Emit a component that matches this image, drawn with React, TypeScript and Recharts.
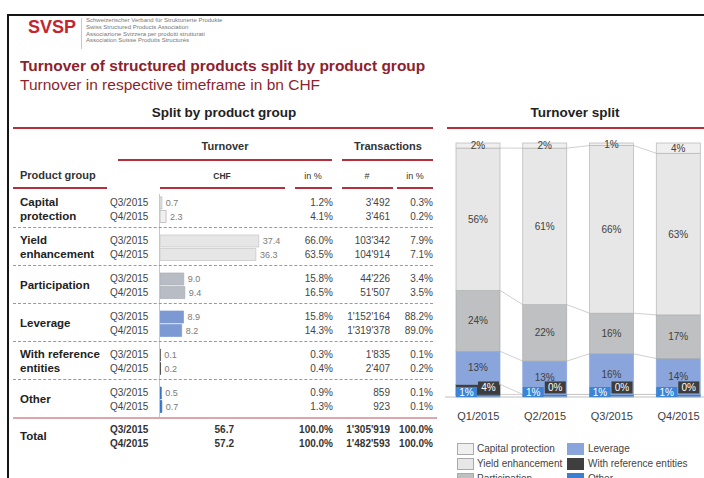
import React from "react";
import { BarChart, Bar, XAxis, YAxis, LabelList } from "recharts";

// ---- table data (Q3/2015 vs Q4/2015) ----
const GROUPS = ["Capital\nprotection", "Yield\nenhancement", "Participation", "Leverage", "With reference\nentities", "Other"];
const PERIODS = ["Q3/2015", "Q4/2015"];
const CHF_Q3 = [0.7, 37.4, 9.0, 8.9, 0.1, 0.5];
const CHF_Q4 = [2.3, 36.3, 9.4, 8.2, 0.2, 0.7];
const PCT_Q3 = [1.2, 66.0, 15.8, 15.8, 0.3, 0.9];
const PCT_Q4 = [4.1, 63.5, 16.5, 14.3, 0.4, 1.3];
const TRX_Q3 = [3492, 103342, 44226, 1152164, 1835, 859];
const TRX_Q4 = [3461, 104914, 51507, 1319378, 2407, 923];
const TRX_PCT_Q3 = [0.3, 7.9, 3.4, 88.2, 0.1, 0.1];
const TRX_PCT_Q4 = [0.2, 7.1, 3.5, 89.0, 0.2, 0.1];
const TOTAL_CHF = [56.7, 57.2];
const TOTAL_TRX = [1305919, 1482593];

// ---- turnover split (stacked, in %) ----
const QUARTERS = ["Q1/2015", "Q2/2015", "Q3/2015", "Q4/2015"];
const SPLIT_CP = [2, 2, 1, 4];
const SPLIT_YE = [56, 61, 66, 63];
const SPLIT_PART = [24, 22, 16, 17];
const SPLIT_LEV = [13, 13, 16, 14];
const SPLIT_WRE = [4, 0, 0, 0];
const SPLIT_OTHER = [1, 1, 1, 1];

const TABLE_COLORS = ["#f0f0f0", "#e6e6e6", "#b8bcc4", "#7d99d4", "#404040", "#3a74c4"];
const TABLE_STROKES = ["#b0b0b0", "#c4c4c4", "#a8acb4", "#7d99d4", "#404040", "#3a74c4"];

// bottom -> top
const SERIES = [
  { key: "other", name: "Other", color: "#3b7fd0", stroke: "#3b7fd0", values: SPLIT_OTHER },
  { key: "wre", name: "With reference entities", color: "#3f3f3f", stroke: "#3f3f3f", values: SPLIT_WRE },
  { key: "lev", name: "Leverage", color: "#8aa5dc", stroke: "#8aa5dc", values: SPLIT_LEV },
  { key: "part", name: "Participation", color: "#bfc0c2", stroke: "#a9aaac", values: SPLIT_PART },
  { key: "ye", name: "Yield enhancement", color: "#e7e7e7", stroke: "#b5b5b5", values: SPLIT_YE },
  { key: "cp", name: "Capital protection", color: "#efefef", stroke: "#b5b5b5", values: SPLIT_CP },
];

const FONT = "Arial, 'Liberation Sans', sans-serif";
const RED = "#b5303b";
const TITLE_RED = "#8e1f2f";

const CH_W = 267;
const CH_H = 300;
const CH_TOP = 8;
const AXIS_H = 38;
const PLOT_H = CH_H - CH_TOP - AXIS_H;
const BAND = CH_W / QUARTERS.length;

const splitData = QUARTERS.map((q, i) => {
  const row: Record<string, any> = { q };
  SERIES.forEach((s) => (row[s.key] = s.values[i]));
  return row;
});

const fmtInt = (n: number) => String(n).replace(/\B(?=(\d{3})+(?!\d))/g, "'");
const fmtPct = (n: number) => n.toFixed(1) + "%";

// fraction of the stack reached at the top of series si in quarter qi
function stackTop(si: number, qi: number) {
  let sum = 0;
  let cum = 0;
  SERIES.forEach((s, k) => {
    sum += s.values[qi];
    if (k <= si) cum += s.values[qi];
  });
  return cum / sum;
}

const makeShape = (si: number) => (props: any) => {
  const { x, y, width, height, index, fill } = props;
  const s = SERIES[si];
  let line = null;
  if (si < SERIES.length - 1 && index < QUARTERS.length - 1) {
    const ny = CH_TOP + PLOT_H * (1 - stackTop(si, index + 1));
    line = <line x1={x + width} y1={y} x2={x + BAND} y2={ny} stroke="#c4c4c4" strokeWidth={0.8} />;
  }
  return (
    <g>
      {height > 0 && (
        <rect x={x} y={y} width={width} height={height} fill={fill} stroke={s.stroke} strokeWidth={0.7} />
      )}
      {line}
    </g>
  );
};

const badge = (bg: string, side: "left" | "right") => (props: any) => {
  const vb = props.viewBox || props;
  const bottom = vb.y + vb.height;
  const w = 21;
  const h = side === "left" ? 10 : 12;
  const bx = side === "left" ? vb.x : vb.x + vb.width - w - 1;
  const by = side === "left" ? bottom - h : bottom - h - 1;
  return (
    <g>
      <rect x={bx} y={by} width={w} height={h} fill={bg} />
      <text x={bx + w / 2} y={by + h / 2 + 3.5} textAnchor="middle" fontSize={10} fill="#fff" fontFamily={FONT}>
        {props.value + "%"}
      </text>
    </g>
  );
};

function T({ x, y, children, align = "left", size = 10, bold = false, color = "#444" }: any) {
  const w = 300;
  const left = align === "left" ? x : align === "right" ? x - w : x - w / 2;
  return (
    <div
      style={{
        position: "absolute",
        left,
        top: y - size * 0.6,
        width: w,
        lineHeight: `${size * 1.2}px`,
        fontSize: size,
        fontWeight: bold ? 700 : 400,
        color,
        textAlign: align,
        whiteSpace: "nowrap",
      }}
    >
      {children}
    </div>
  );
}

const HLine = ({ x1, x2, y, color = RED, h = 2, dashed = false }: any) => (
  <div
    style={{
      position: "absolute",
      left: x1,
      top: y - h / 2,
      width: x2 - x1,
      height: dashed ? 0 : h,
      background: dashed ? "none" : color,
      borderTop: dashed ? `1px dashed ${color}` : "none",
    }}
  />
);

function GroupBars({ i, top }: { i: number; top: number }) {
  const data = [
    { p: PERIODS[0], v: CHF_Q3[i] },
    { p: PERIODS[1], v: CHF_Q4[i] },
  ];
  return (
    <div style={{ position: "absolute", left: 160, top }}>
      <BarChart width={140} height={27} data={data} layout="vertical" margin={{ top: 0, right: 0, bottom: 0, left: 0 }} barCategoryGap={1}>
        <XAxis type="number" domain={[0, 53]} hide />
        <YAxis type="category" dataKey="p" hide />
        <Bar dataKey="v" fill={TABLE_COLORS[i]} stroke={TABLE_STROKES[i]} strokeWidth={0.7} isAnimationActive={false}>
          <LabelList dataKey="v" position="right" offset={4} fontSize={9} fill="#7a7a7a" formatter={(v: any) => Number(v).toFixed(1)} />
        </Bar>
      </BarChart>
    </div>
  );
}

export default function App() {
  const groupTop = (i: number) => 196 + 38 * i;
  return (
    <div
      style={{
        position: "absolute",
        left: 0,
        top: 0,
        width: 704,
        height: 478,
        overflow: "hidden",
        background: "#fff",
        fontFamily: FONT,
      }}
    >
      {/* frame */}
      <div style={{ position: "absolute", left: 7, top: 14, width: 700, height: 2, background: "#151515" }} />
      <div style={{ position: "absolute", left: 7, top: 14, width: 2, height: 470, background: "#151515" }} />

      {/* logo */}
      <T x={28} y={28} size={18} bold color="#c3262f">SVSP</T>
      <div style={{ position: "absolute", left: 81, top: 18, width: 1, height: 31, background: "#c8c8c8" }} />
      {[
        "Schweizerischer Verband für Strukturierte Produkte",
        "Swiss Structured Products Association",
        "Associazione Svizzera per prodotti strutturati",
        "Association Suisse Produits Structurés",
      ].map((s, k) => (
        <T key={k} x={86} y={21 + k * 6.6} size={6} color="#777">
          {s}
        </T>
      ))}

      <T x={20} y={66} size={15.5} bold color={TITLE_RED}>Turnover of structured products split by product group</T>
      <T x={20} y={85} size={15.5} color={TITLE_RED}>Turnover in respective timeframe in bn CHF</T>

      {/* table headers */}
      <T x={224} y={113} size={13.5} bold align="center" color="#222">Split by product group</T>
      <HLine x1={13} x2={433} y={128} />
      <T x={225} y={147} size={11} bold align="center" color="#333">Turnover</T>
      <T x={388} y={147} size={11} bold align="center" color="#333">Transactions</T>
      <HLine x1={118} x2={332} y={160} />
      <HLine x1={342} x2={433} y={160} />
      <T x={20} y={176} size={11} bold color="#333">Product group</T>
      <T x={222} y={176} size={8.5} bold align="center" color="#333">CHF</T>
      <T x={313} y={176} size={9} align="center" color="#333">in %</T>
      <T x={367} y={176} size={9} align="center" color="#333">#</T>
      <T x={415} y={176} size={9} align="center" color="#333">in %</T>
      <HLine x1={13} x2={107} y={188} />
      <HLine x1={160} x2={285} y={188} />
      <HLine x1={295} x2={332} y={188} />
      <HLine x1={342} x2={393} y={188} />
      <HLine x1={397} x2={433} y={188} />

      {/* category axis of the turnover bars */}
      <div style={{ position: "absolute", left: 159, top: 194, width: 1, height: 225, background: "#c8c8c8" }} />

      {GROUPS.map((g, i) => {
        const top = groupTop(i);
        const lines = g.split("\n");
        return (
          <React.Fragment key={g}>
            {lines.map((l, k) => (
              <T key={k} x={20} y={top + 13.5 + (k - (lines.length - 1) / 2) * 14} size={11.5} bold color="#222">
                {l}
              </T>
            ))}
            {PERIODS.map((p, k) => (
              <React.Fragment key={p}>
                <T x={110} y={top + 7 + k * 13.5} size={10}>{p}</T>
                <T x={333} y={top + 7 + k * 13.5} size={10} align="right">{fmtPct(k ? PCT_Q4[i] : PCT_Q3[i])}</T>
                <T x={390} y={top + 7 + k * 13.5} size={10} align="right">{fmtInt(k ? TRX_Q4[i] : TRX_Q3[i])}</T>
                <T x={433} y={top + 7 + k * 13.5} size={10} align="right">{fmtPct(k ? TRX_PCT_Q4[i] : TRX_PCT_Q3[i])}</T>
              </React.Fragment>
            ))}
            <GroupBars i={i} top={top} />
            {i < GROUPS.length - 1 ? (
              <HLine x1={13} x2={433} y={top + 32} dashed color="#9a9a9a" />
            ) : (
              <HLine x1={13} x2={437} y={top + 32} h={1.5} color="#dba7ad" />
            )}
          </React.Fragment>
        );
      })}

      {/* totals */}
      <T x={20} y={437} size={11.5} bold color="#222">Total</T>
      {PERIODS.map((p, k) => (
        <React.Fragment key={p}>
          <T x={110} y={430 + k * 14} size={10} bold color="#333">{p}</T>
          <T x={234} y={430 + k * 14} size={10} bold align="right" color="#333">{TOTAL_CHF[k].toFixed(1)}</T>
          <T x={333} y={430 + k * 14} size={10} bold align="right" color="#333">100.0%</T>
          <T x={390} y={430 + k * 14} size={10} bold align="right" color="#333">{fmtInt(TOTAL_TRX[k])}</T>
          <T x={433} y={430 + k * 14} size={10} bold align="right" color="#333">100.0%</T>
        </React.Fragment>
      ))}

      {/* turnover split */}
      <T x={575} y={113} size={13.5} bold align="center" color="#222">Turnover split</T>
      <HLine x1={447} x2={704} y={128} />
      <div style={{ position: "absolute", left: 445, top: 135 }}>
        <BarChart
          width={CH_W}
          height={CH_H}
          data={splitData}
          stackOffset="expand"
          margin={{ top: CH_TOP, right: 0, bottom: 0, left: 0 }}
          barSize={44}
        >
          <XAxis
            dataKey="q"
            height={AXIS_H}
            interval={0}
            axisLine={{ stroke: "#c0c0c0" }}
            tickLine={false}
            tickMargin={9}
            tick={{ fontSize: 11, fill: "#404040", fontFamily: FONT }}
          />
          <YAxis hide domain={[0, 1]} />
          {SERIES.map((s, si) => (
            <Bar key={s.key} dataKey={s.key} stackId="a" fill={s.color} shape={makeShape(si)} isAnimationActive={false}>
              {s.key === "other" ? (
                <LabelList dataKey={s.key} content={badge("#3b84d6", "left")} />
              ) : s.key === "wre" ? (
                <LabelList dataKey={s.key} content={badge("#3d3d3d", "right")} />
              ) : (
                <LabelList
                  dataKey={s.key}
                  position="center"
                  fontSize={10}
                  fill="#404040"
                  fontFamily={FONT}
                  formatter={(v: any) => v + "%"}
                />
              )}
            </Bar>
          ))}
        </BarChart>
      </div>

      {/* legend */}
      {[
        [SERIES[5], SERIES[2]],
        [SERIES[4], SERIES[1]],
        [SERIES[3], SERIES[0]],
      ].map((row, r) =>
        row.map((s, c) => (
          <React.Fragment key={s.key}>
            <div
              style={{
                position: "absolute",
                left: c ? 567 : 457,
                top: 443 + r * 15,
                width: 15,
                height: 10,
                background: s.color,
                border: `1px solid ${s.stroke === s.color ? s.color : "#aaa"}`,
              }}
            />
            <T x={c ? 588 : 477} y={448.5 + r * 15} size={10} color="#444">{s.name}</T>
          </React.Fragment>
        ))
      )}
    </div>
  );
}
